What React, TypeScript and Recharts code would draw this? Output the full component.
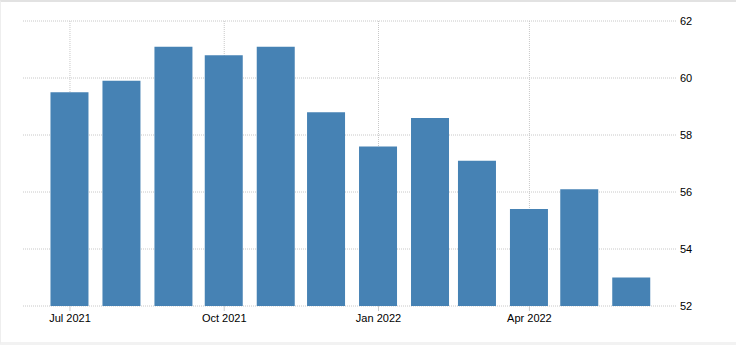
import React from 'react'
import { BarChart, Bar, XAxis, YAxis, CartesianGrid } from 'recharts'

// months as day offsets from 1 Jul 2021
const months = ['Jul 2021', 'Aug 2021', 'Sep 2021', 'Oct 2021', 'Nov 2021', 'Dec 2021', 'Jan 2022', 'Feb 2022', 'Mar 2022', 'Apr 2022', 'May 2022', 'Jun 2022']
const dayOffsets = [0, 31, 62, 92, 123, 153, 184, 215, 243, 274, 304, 335]
const values = [59.5, 59.9, 61.1, 60.8, 61.1, 58.8, 57.6, 58.6, 57.1, 55.4, 56.1, 53.0]

const xTicks = [0, 92, 184, 274]
const xTickLabels = ['Jul 2021', 'Oct 2021', 'Jan 2022', 'Apr 2022']
const yTicks = [52, 54, 56, 58, 60, 62]

const data = months.map((m, i) => ({ month: m, day: dayOffsets[i], value: values[i] }))

const font = { fontFamily: '"Liberation Sans", Arial, sans-serif', fontSize: 11, fill: '#000' }

export default function App() {
  return (
    <div style={{ position: 'absolute', left: 0, top: 0, width: 736, height: 345, background: '#fff' }}>
      <BarChart
        width={736}
        height={345}
        data={data}
        margin={{ top: 21, right: 0, bottom: 9, left: 23 }}
        barSize={38}
      >
        <CartesianGrid stroke="#c8c8c8" strokeDasharray="1 1" verticalValues={xTicks} />
        <XAxis
          dataKey="day"
          type="number"
          domain={[-28, 362]}
          ticks={xTicks}
          tickFormatter={(v: number) => xTickLabels[xTicks.indexOf(v)] ?? ''}
          axisLine={false}
          tickLine={{ stroke: '#cccccc' }}
          tickSize={5}
          tickMargin={3}
          height={30}
          tick={font}
          allowDataOverflow
        />
        <YAxis
          orientation="right"
          domain={[52, 62]}
          ticks={yTicks}
          axisLine={false}
          tickLine={false}
          tickSize={0}
          tickMargin={3}
          width={59}
          tick={{ ...font, textAnchor: 'start' }}
          allowDataOverflow
        />
        <Bar dataKey="value" fill="#4682b4" isAnimationActive={false} />
      </BarChart>
      <div
        style={{
          position: 'absolute',
          left: 0,
          top: 0,
          width: 736,
          height: 345,
          boxSizing: 'border-box',
          borderTop: '2px solid #e2e2e2',
          borderLeft: '1px solid #eeeeee',
          borderBottom: '3px solid #f2f2f2',
          pointerEvents: 'none',
        }}
      />
    </div>
  )
}
